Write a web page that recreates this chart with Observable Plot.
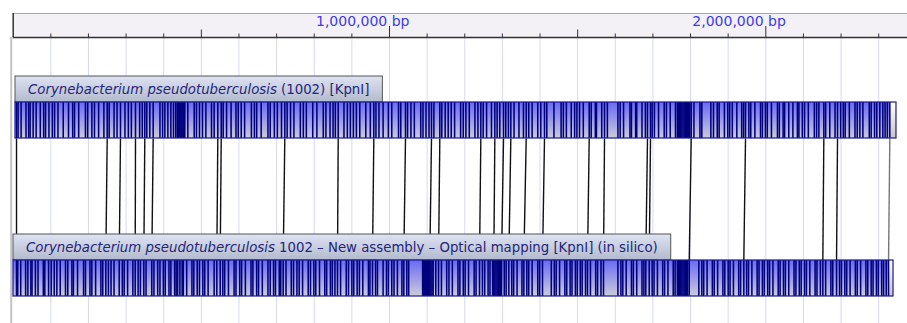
<!DOCTYPE html>
<html><head><meta charset="utf-8">
<script src="https://cdn.jsdelivr.net/npm/d3@7"></script>
<script src="https://cdn.jsdelivr.net/npm/@observablehq/plot@0.6"></script>
<style>html,body{margin:0;padding:0;background:#fff;}#chart{width:907px;height:323px;overflow:hidden;}</style>
</head><body><div id="chart"></div>
<script>
// ---------------- DATA (kb) ----------------
const trackNames = ["Corynebacterium pseudotuberculosis", "Corynebacterium pseudotuberculosis"];
const trackSuffixes = ["(1002) [KpnI]", "1002 \u2013 New assembly \u2013 Optical mapping [KpnI] (in silico)"];
const trackStartKb = [6.1, 0.8];
const trackEndKb = [2347.3, 2339.4];

const topCutsKb = [8.8, 13, 21, 34, 41, 45, 53, 61, 72, 81, 86, 95,
 104, 110, 119, 133, 147, 158, 163, 174, 192, 198,
 209, 216, 227, 241, 249.8, 255, 268, 276, 285.1, 297,
 306, 314, 325, 336, 343, 349.7, 355, 363, 372, 390, 397,
 403, 411, 419, 426, 432, 436, 438.5, 441, 443.5, 446, 448.5, 451, 453.5, 456, 464, 481, 487, 495,
 503, 512, 527, 534, 543.7, 552.8, 558, 567, 579, 592, 598,
 606, 615, 633, 641, 647, 659, 677, 683, 694,
 702, 713, 721.8, 728, 737, 746, 763, 771, 779, 796,
 807, 824, 831, 842, 850, 856, 863.7, 879, 888, 896,
 904, 912, 921, 937, 949, 958.3, 964, 972, 983, 997,
 1006, 1024, 1030, 1042.5, 1048, 1057, 1066, 1083, 1089, 1097,
 1105, 1111.6, 1118, 1133.7, 1139, 1148, 1156, 1164, 1173, 1189, 1196,
 1203, 1212, 1227, 1235, 1242.7, 1249, 1258, 1271, 1279.9, 1286, 1293,
 1303, 1309, 1316, 1322.4, 1331, 1344, 1356, 1363.3, 1370, 1379, 1394,
 1402, 1411.9, 1418, 1437, 1456, 1462, 1470, 1483, 1492, 1498,
 1505, 1515, 1530.7, 1536, 1547, 1550, 1564, 1571.4, 1579, 1607,
 1613, 1622, 1639, 1643, 1654, 1657, 1671, 1680, 1685.6, 1693.6, 1698,
 1704, 1715, 1730, 1736, 1746, 1760, 1765, 1768, 1771, 1774, 1777, 1780, 1783, 1786, 1789, 1792, 1795, 1798, 1801.8,
 1809, 1825, 1830, 1854, 1861, 1871, 1876, 1890, 1899,
 1904, 1911, 1923, 1936, 1941, 1946.1, 1955, 1960, 1971, 1986, 1991, 1999,
 2004, 2015, 2031, 2036, 2046, 2050, 2061, 2072, 2084, 2088, 2097,
 2103, 2113, 2129, 2135, 2141, 2154.2, 2159, 2170, 2184, 2190.6, 2199,
 2206, 2211, 2222, 2237, 2243, 2250, 2258, 2275, 2280, 2289, 2295,
 2303, 2311, 2317, 2323, 2329.6];

const bottomCutsKb = [8.8, 12, 20, 33, 39, 47, 50, 59, 66, 80, 84, 94,
 101, 109, 116, 125, 139, 145, 156, 160, 171, 187, 192,
 204, 209, 219, 233, 238, 246.1, 253, 260, 268, 281.7, 290, 295,
 304, 318, 324.2, 332, 338, 347.1, 353, 368.3, 374, 384, 390, 399,
 404, 414, 419, 429, 433, 437, 443, 449, 452, 461, 475, 480, 489, 495,
 504, 509, 518, 534, 541.1, 550.1, 557, 562, 572, 587, 592,
 602, 607, 617, 632, 637, 647, 652, 662, 677, 683, 692, 697,
 707, 711, 717.5, 725, 739, 745, 754, 760, 769, 784, 790, 799,
 804, 814, 828, 833, 843, 848, 855, 861.8, 870, 885, 891, 900,
 905, 914, 920, 929, 944, 948, 954.8, 963, 968, 983, 992, 997,
 1006, 1012, 1021, 1033, 1038, 1046, 1051, 1088, 1091, 1093.5, 1096, 1098.5,
 1101, 1103.5, 1107.1, 1110, 1113, 1116, 1123, 1130.3, 1138, 1152, 1158, 1167, 1182, 1187, 1196,
 1201, 1210, 1225, 1230, 1239.2, 1247, 1253, 1262, 1267, 1274, 1277.2, 1280, 1283, 1286, 1289, 1292, 1295, 1297.7,
 1305, 1310, 1317.1, 1325, 1330, 1339, 1352, 1357, 1365, 1370, 1379, 1394, 1399,
 1406.6, 1430, 1438, 1443, 1452, 1466, 1471, 1480, 1485, 1494, 1499,
 1507, 1512, 1521, 1526.2, 1534, 1548, 1553, 1562, 1568.7, 1607,
 1615, 1620, 1629, 1643, 1648, 1657, 1671, 1676, 1681.1, 1690.2, 1698,
 1703, 1712, 1726, 1731, 1740, 1754, 1759, 1765, 1768, 1771, 1774, 1777, 1780, 1783, 1786, 1789, 1792, 1796.5,
 1822, 1830, 1835, 1844, 1858, 1863, 1872, 1886, 1891, 1900,
 1905, 1914, 1928, 1933, 1941.6, 1949, 1954, 1963, 1977, 1982, 1991, 1996,
 2005, 2010, 2019, 2033, 2038, 2047, 2052, 2061, 2075, 2080, 2089, 2094,
 2103, 2108, 2117, 2131, 2136, 2145, 2151.6, 2159, 2173, 2178, 2188, 2196,
 2201, 2210, 2215, 2224, 2238, 2243, 2252, 2266, 2271, 2280, 2285, 2294,
 2299, 2308, 2313, 2320, 2326.2];

const matchTopKb = [8.8, 249.8, 285.1, 325, 349.7, 372, 543.7, 552.8, 721.8, 863.7, 958.3, 1042.5, 1111.6, 1133.7,
 1242.7, 1279.9, 1303, 1322.4, 1363.3, 1411.9, 1530.7, 1571.4, 1685.6, 1693.6, 1801.8, 1946.1, 2154.2, 2190.6, 2329.6];
const matchBottomKb = [8.8, 246.1, 281.7, 324.2, 347.1, 368.3, 541.1, 550.1, 717.5, 861.8, 954.8, 1038, 1107.1, 1130.3,
 1239.2, 1277.2, 1297.7, 1317.1, 1357, 1406.6, 1526.2, 1568.7, 1681.1, 1690.2, 1796.5, 1941.6, 2151.6, 2188, 2326.2];

const rulerTicksKb = [100, 200, 300, 400, 500, 600, 700, 800, 900, 1000, 1100, 1200, 1300, 1400, 1500,
 1600, 1700, 1800, 1900, 2000, 2100, 2200, 2300];
const rulerLabelKb = [1000, 2000];
const rulerLabels = ["1,000,000 bp", "2,000,000 bp"];

// ---------------- LAYOUT ----------------
const W = 907, H = 323, X0 = 12.7, PX_PER_KB = 0.3763;
const kbMax = (W - X0) / PX_PER_KB;
const FONT = '"DejaVu Sans", sans-serif';
const LABEL_FS = 13.3;
const ctx = document.createElement("canvas").getContext("2d");
function tw(s, style) { ctx.font = `${style || ""} ${LABEL_FS}px "DejaVu Sans"`; return ctx.measureText(s).width; }

const labelTops = [76, 234];
const tracks = [0, 1].map(i => {
  const wItal = tw(trackNames[i], "italic");
  const wSp = tw(" ");
  const wRest = tw(trackSuffixes[i]);
  const tot = wItal + wSp + wRest;
  const lt = labelTops[i];
  return {
    start: trackStartKb[i], end: trackEndKb[i],
    labTop: lt, labBot: lt + 26, barTop: lt + 26, barBot: lt + 62,
    boxEnd: trackStartKb[i] + (tot + 26) / PX_PER_KB,
    dxRest: 12.5 + wItal + wSp,
    name: trackNames[i], suffix: trackSuffixes[i]
  };
});
const cuts = [topCutsKb, bottomCutsKb];
const idx = matchTopKb.map((d, i) => i);
const nM = idx.length;

const marks = [
  Plot.rect([0], {x1: 0, x2: kbMax, y1: 13, y2: 37, fill: "#f3f1f5"}),
  Plot.ruleY([13], {x1: 0, x2: kbMax, stroke: "#a9a9a9"}),
  Plot.ruleX(rulerTicksKb, {x: d => d, y1: 37.5, y2: H, stroke: "#d8d8fb"}),
  Plot.ruleX([0], {x: d => d, y1: 37, y2: H, stroke: "#c4c4c4", strokeWidth: 2, dx: -2}),
  Plot.ruleX(rulerTicksKb, {x: d => d, y1: d => d % 1000 === 0 ? 26 : d % 500 === 0 ? 29.5 : 33.5, y2: 37, stroke: "#333"}),
  Plot.ruleX([0], {x: d => d, y1: 13, y2: 37, stroke: "#333", strokeWidth: 1.5}),
  Plot.ruleY([37], {y: d => d, x1: 0, x2: kbMax, stroke: "#333", strokeWidth: 1.5}),
  Plot.text(rulerLabelKb, {x: d => d, y: 21, text: (d, i) => rulerLabels[i], textAnchor: "start", dx: -73.5,
    fill: "#3a3af2", fontSize: 14, fontFamily: FONT}),
  Plot.link(idx.slice(0, nM - 1), {x1: i => matchTopKb[i], x2: i => matchBottomKb[i], y1: tracks[0].barBot, y2: tracks[1].barTop,
    stroke: "#111", strokeWidth: 1.4}),
  Plot.link(idx.slice(nM - 1), {x1: i => matchTopKb[i], x2: i => matchBottomKb[i], y1: tracks[0].barBot, y2: tracks[1].barTop,
    stroke: "#777", strokeWidth: 1.4}),
];

tracks.forEach((t, i) => {
  marks.push(
    Plot.rect([t], {x1: "start", x2: "boxEnd", y1: "labTop", y2: "labBot", fill: "url(#glab)", stroke: "#555", strokeWidth: 1}),
    Plot.text([t], {x: "start", y: d => d.labTop + 13.5, text: "name", textAnchor: "start", dx: 12.5,
      fontStyle: "italic", fontSize: LABEL_FS, fontFamily: FONT, fill: "#25257a"}),
    Plot.text([t], {x: "start", y: d => d.labTop + 13.5, text: "suffix", textAnchor: "start", dx: t.dxRest,
      fontSize: LABEL_FS, fontFamily: FONT, fill: "#25257a"}),
    Plot.rect([t], {x1: "start", x2: "end", y1: "barTop", y2: "barBot", fill: "url(#gbar)"}),
    Plot.rect([t], {x1: d => cuts[i][cuts[i].length - 1], x2: "end", y1: "barTop", y2: "barBot", fill: "url(#gwhite)"}),
    Plot.ruleX(cuts[i], {x: d => d, y1: t.barTop, y2: t.barBot, stroke: "#00007c", strokeWidth: 1.55}),
    Plot.rect([t], {x1: "start", x2: "end", y1: "barTop", y2: "barBot", fill: "none", stroke: "#1a1a8c", strokeWidth: 1.2})
  );
});

const chart = Plot.plot({
  width: W, height: H,
  marginTop: 0, marginBottom: 0, marginLeft: X0, marginRight: 0,
  x: {type: "linear", domain: [0, kbMax], axis: null},
  y: {type: "linear", domain: [0, H], range: [0, H], axis: null},
  style: {fontFamily: FONT, background: "#fff", color: "#000", overflow: "visible"},
  marks
});

const defs = d3.select(chart).insert("defs", ":first-child");
function grad(id, c0, c1) {
  const g = defs.append("linearGradient").attr("id", id).attr("x1", 0).attr("y1", 0).attr("x2", 0).attr("y2", 1);
  g.append("stop").attr("offset", "0%").attr("stop-color", c0);
  g.append("stop").attr("offset", "100%").attr("stop-color", c1);
}
grad("gbar", "#6a6af6", "#cbcbd8");
grad("gwhite", "#ffffff", "#c6c6ca");
grad("glab", "#dee3f2", "#b2bacd");

document.getElementById("chart").appendChild(chart);
</script>
</body></html>
